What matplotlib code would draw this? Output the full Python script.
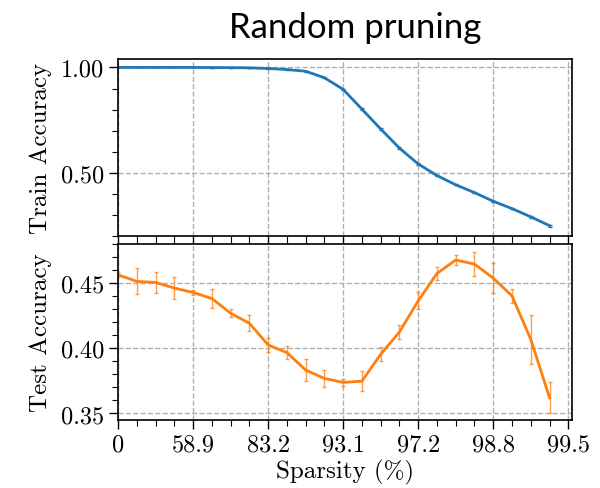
import numpy as np
import matplotlib
matplotlib.use("Agg")
import matplotlib.pyplot as plt
from matplotlib.ticker import MultipleLocator, FixedLocator, FixedFormatter

plt.rcParams['font.family'] = 'serif'
plt.rcParams['font.serif'] = ['cmr10']
plt.rcParams['mathtext.fontset'] = 'cm'
plt.rcParams['axes.formatter.use_mathtext'] = True

# ---- data ----
step = np.arange(24)
train_acc = [1.0, 1.0, 1.0, 1.0, 1.0, 0.9995, 0.999, 0.998, 0.995, 0.990, 0.982, 0.951,
             0.896, 0.802, 0.708, 0.617, 0.542, 0.487, 0.443, 0.406, 0.365, 0.330, 0.291, 0.249]
train_err = [0, 0, 0, 0, 0, 0, 0, 0, 0.001, 0.001, 0.002, 0.002,
             0.003, 0.004, 0.003, 0.004, 0.003, 0.003, 0.003, 0.003, 0.003, 0.003, 0.006, 0.004]
test_acc = [0.4564, 0.4513, 0.4505, 0.4462, 0.4428, 0.4382, 0.4269, 0.4192, 0.4026, 0.3967, 0.3833, 0.3769,
            0.3738, 0.3748, 0.3954, 0.4125, 0.4364, 0.4574, 0.4677, 0.4646, 0.4538, 0.4402, 0.4069, 0.3621]
test_err = [0.002, 0.0099, 0.0083, 0.0085, 0.0022, 0.0070, 0.0030, 0.0060, 0.0055, 0.0050, 0.0083, 0.0067,
            0.0030, 0.0078, 0.0055, 0.0055, 0.0064, 0.0049, 0.0035, 0.0092, 0.0115, 0.0054, 0.0190, 0.0118]
tick_pos = [0, 4, 8, 12, 16, 20, 24]
tick_labels = ['0', '58.9', '83.2', '93.1', '97.2', '98.8', '99.5']

fig = plt.figure(figsize=(6.0, 4.89), dpi=100)
ax1 = fig.add_axes([0.1967, 0.5153, 0.7567, 0.362])
ax2 = fig.add_axes([0.1967, 0.1391, 0.7567, 0.3599], sharex=ax1)

blue = '#1f77b4'
orange = '#ff7f0e'

ax1.errorbar(step, train_acc, yerr=train_err, color=blue, lw=2.0,
             elinewidth=1.0, capsize=1.5, ecolor=blue)
eb = ax2.errorbar(step, test_acc, yerr=test_err, color=orange, lw=2.0,
                  elinewidth=1.0, capsize=1.5, ecolor=orange)
for c in eb[2]:
    c.set_alpha(0.75)
for c in eb[1]:
    c.set_alpha(0.75)

ax1.set_xlim(0, 24.2)
ax1.set_ylim(0.2, 1.04)
ax2.set_ylim(0.345, 0.48)

for ax in (ax1, ax2):
    ax.xaxis.set_major_locator(FixedLocator(tick_pos))
    ax.xaxis.set_minor_locator(MultipleLocator(1))
    ax.grid(True, which='major', ls='--', color='#b0b0b0', lw=1.0)
    ax.tick_params(which='major', length=6.5, width=1.0, labelsize=17.5)
    ax.tick_params(which='minor', length=4, width=0.8)
    for s in ax.spines.values():
        s.set_linewidth(1.2)

ax1.yaxis.set_major_locator(MultipleLocator(0.5))
ax1.yaxis.set_minor_locator(MultipleLocator(0.1))
ax1.yaxis.set_major_formatter(plt.FuncFormatter(lambda v, p: f'{v:.2f}'))
ax2.yaxis.set_major_locator(MultipleLocator(0.05))
ax2.yaxis.set_minor_locator(MultipleLocator(0.01))
ax2.yaxis.set_major_formatter(plt.FuncFormatter(lambda v, p: f'{v:.2f}'))
ax1.tick_params(axis='x', which='both', labelbottom=False, length=6)
ax2.xaxis.set_major_formatter(FixedFormatter(tick_labels))

ax1.set_ylabel('Train Accuracy', fontsize=18)
ax2.set_ylabel('Test Accuracy', fontsize=18)
ax2.set_xlabel('Sparsity (%)', fontsize=18, labelpad=2)
ax1.yaxis.set_label_coords(-0.145, 0.5)
ax2.yaxis.set_label_coords(-0.145, 0.5)

fig.text(355 / 600, 1 - 38 / 489, 'Random pruning', family='Lato', fontsize=25,
         ha='center', va='baseline')

fig.savefig('out.png', dpi=100)
